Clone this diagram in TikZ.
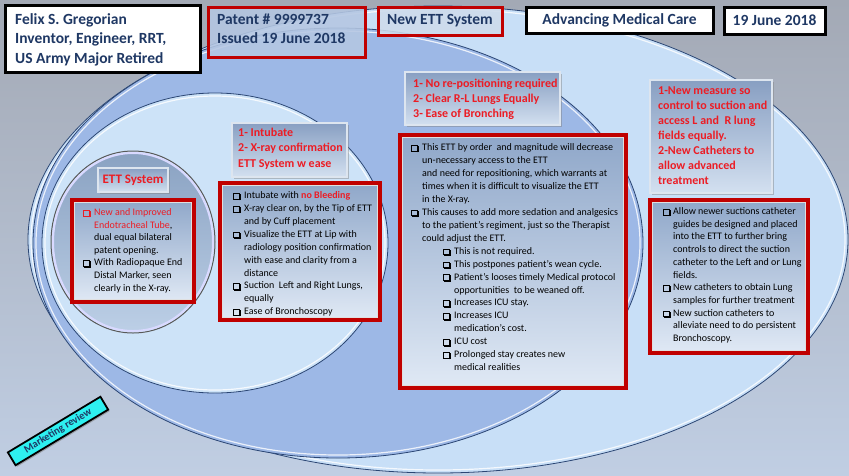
\documentclass[tikz,border=0pt]{standalone}
\usepackage{fontspec}
\setmainfont{Carlito}
\usetikzlibrary{shadows}
\definecolor{navy}{HTML}{1F3864}
\definecolor{redtxt}{HTML}{EC1C24}
\definecolor{redbd}{HTML}{C00000}
\definecolor{bgtop}{HTML}{A3A9B5}
\definecolor{bgmid}{HTML}{AFBACB}
\definecolor{bgbot}{HTML}{C0CEE3}
\definecolor{eone}{HTML}{C8DFF7}
\definecolor{etwo}{HTML}{9DB8E6}
\definecolor{ethree}{HTML}{CDE3F8}
\definecolor{efourtop}{HTML}{8AA2C2}
\definecolor{efourbot}{HTML}{BCCFE6}
\definecolor{eline}{HTML}{2B4674}
\definecolor{boxtop}{HTML}{8FA7C9}
\definecolor{boxbot}{HTML}{E0E9F5}
\definecolor{bevtop}{HTML}{889FC2}
\definecolor{bevbot}{HTML}{D3E0F0}
\definecolor{bevrim}{HTML}{DDE5EF}
\definecolor{mkcyan}{HTML}{2EF0F0}
\definecolor{patfill}{HTML}{BACEEC}
\definecolor{newfill}{HTML}{D6E4F6}
% shadowed square bullet built from rules
\newcommand\qb{{\setlength{\fboxsep}{0pt}\setlength{\fboxrule}{0.7pt}\fbox{\rule{0pt}{4.9pt}\rule{4.9pt}{0pt}}\kern-0.1pt\rule[-1.7pt]{1.1pt}{6.3pt}\llap{\rule[-1.7pt]{6.3pt}{1.1pt}}}}
\newcommand\bu{\makebox[11pt][l]{\qb}}
\newcommand\bw{\makebox[10pt][l]{\qb}}
\newcommand\ci{\hspace*{11pt}}
\newcommand\cw{\hspace*{10pt}}
\tikzset{
 hdrblack/.style={draw=black, line width=3pt, fill=white, drop shadow={shadow xshift=1.5pt, shadow yshift=-1.5pt, opacity=0.5}, inner sep=0, font=\fontsize{15.5}{19.5}\selectfont\bfseries, text=navy},
 hdrred/.style={draw=redbd, line width=3pt, fill=patfill, fill opacity=0.8, text opacity=1, drop shadow={shadow xshift=1.5pt, shadow yshift=-1.5pt, opacity=0.4}, inner sep=0, font=\fontsize{15.5}{19.5}\selectfont\bfseries, text=navy},
 redbox/.style={draw=redbd, line width=3.5pt, top color=boxtop, bottom color=boxbot, drop shadow={opacity=0.45}, inner sep=0},
 innerrim/.style={draw=white!75!gray, line width=0.6pt},
 bevel/.style={draw=bevrim, line width=2.5pt, top color=bevtop, bottom color=bevbot, drop shadow={shadow xshift=2pt, shadow yshift=-2pt, opacity=0.45}, inner sep=0},
 body/.style={anchor=north west, inner sep=0, align=left, font=\fontsize{10}{12.9}\selectfont, text=black},
 head/.style={anchor=north west, inner sep=0, align=left, font=\fontsize{12}{15}\selectfont\bfseries, text=redtxt},
 ell/.style={draw=eline, line width=0.8pt},
 hilite/.style={draw=white, line width=1.2pt, opacity=0.8},
}
\begin{document}
\begin{tikzpicture}[x=1pt,y=-1pt]
\useasboundingbox (0,0) rectangle (849,475);
% background
\shade[top color=bgtop, middle color=bgmid, bottom color=bgbot] (0,0) rectangle (849,475);
% nested ellipses
\draw[ell, fill=eone] (438,239.5) ellipse [x radius=410pt, y radius=233.5pt];
\draw[hilite] (438,239.5) ellipse [x radius=407pt, y radius=230.5pt];
\draw[ell, fill=etwo] (338,243) ellipse [x radius=305pt, y radius=215pt];
\draw[hilite] (338,243) ellipse [x radius=302pt, y radius=212pt];
\draw[ell, fill=ethree] (215,243) ellipse [x radius=173pt, y radius=150pt];
\draw[hilite] (215,243) ellipse [x radius=170pt, y radius=147pt];
\draw[draw=gray!70!black, line width=1pt] (133,242) ellipse [x radius=82pt, y radius=91pt];
\draw[draw=white!85!blue, line width=2pt, top color=efourtop, bottom color=efourbot] (133,242) ellipse [x radius=80pt, y radius=89pt];

% header boxes
\node[hdrblack, minimum width=195pt, minimum height=67pt] (felix) at (102.5,38.5) {};
\node[anchor=north west, inner sep=0, align=left, font=\fontsize{15.5}{19.5}\selectfont\bfseries, text=navy] (felixt) at (15,13) {Felix S. Gregorian\\Inventor, Engineer, RRT,\\US Army Major Retired};
\node[hdrred, minimum width=157pt, minimum height=50pt] (pat) at (286.5,32) {};
\node[anchor=north west, inner sep=0, align=left, font=\fontsize{15.5}{19}\selectfont\bfseries, text=navy] (patt) at (217,14) {Patent \# 9999737\\Issued 19 June 2018};
\node[hdrred, fill=newfill, minimum width=124pt, minimum height=28pt] (new) at (440,21) {New ETT System};
\node[hdrblack, minimum width=187pt, minimum height=26pt] (adv) at (619.5,20) {Advancing Medical Care};
\node[hdrblack, minimum width=101pt, minimum height=27pt] (date) at (774.5,20.5) {19 June 2018};

% left circle
\node[bevel, minimum width=70pt, minimum height=24pt, font=\fontsize{13}{15}\selectfont\bfseries, text=redtxt] (ett) at (133,180) {ETT System};
\node[redbox, minimum width=122pt, minimum height=102pt] (b1) at (133,251) {};
\draw[innerrim] ([shift={(4,4)}]b1.north west) rectangle ([shift={(-4,-4)}]b1.south east);
\node[body, font=\fontsize{10}{12.6}\selectfont] (t1) at (83,208.4) {\textcolor{redtxt}{\bu New and Improved}\\
\ci\textcolor{redtxt}{Endotracheal Tube}, \\
\ci dual equal bilateral\\
\ci patent opening.\\
\bu With Radiopaque End\\
\ci Distal Marker, seen\\
\ci clearly in the X-ray.};

% column 2
\node[bevel, minimum width=115pt, minimum height=54pt] (h2) at (289.5,150) {};
\node[head, font=\fontsize{12}{15.5}\selectfont\bfseries] (h2t) at (238,127.5) {1- Intubate\\2- X-ray confirmation\\ETT System w ease};
\node[redbox, minimum width=160pt, minimum height=137pt] (b2) at (300,251.5) {};
\draw[innerrim] ([shift={(4,4)}]b2.north west) rectangle ([shift={(-4,-4)}]b2.south east);
\node[body] (t2) at (233,191.4) {\bu Intubate with \textcolor{redtxt}{\bfseries no Bleeding}\\
\bu X-ray clear on, by the Tip of ETT\\
\ci and by Cuff placement\\
\bu Visualize the ETT at Lip with\\
\ci radiology position confirmation\\
\ci with ease and clarity from a\\
\ci distance\\
\bu Suction\ \ Left and Right Lungs,\\
\ci equally\\
\bu Ease of Bronchoscopy};

% column 3
\node[bevel, minimum width=155pt, minimum height=53pt] (h3) at (482.5,98.5) {};
\node[head] (h3t) at (413,78.5) {1- No re-positioning required\\2- Clear R-L Lungs Equally\\3- Ease of Bronching};
\node[redbox, minimum width=226pt, minimum height=253pt] (b3) at (513,261.5) {};
\draw[innerrim] ([shift={(4,4)}]b3.north west) rectangle ([shift={(-4,-4)}]b3.south east);
\node[body, font=\fontsize{10}{12.95}\selectfont] (t3) at (411,143.4) {\bu This ETT by order\ \ and magnitude will decrease\\
\ci un-necessary access to the ETT\\
\ci and need for repositioning, which warrants at\\
\ci times when it is difficult to visualize the ETT\\
\ci in the X-ray.\\
\bu This causes to add more sedation and analgesics\\
\ci to the patient’s regiment, just so the Therapist\\
\ci could adjust the ETT.\\
\hspace*{32pt}\bu This is not required.\\
\hspace*{32pt}\bu This postpones patient’s wean cycle.\\
\hspace*{32pt}\bu Patient’s looses timely Medical protocol\\
\hspace*{43pt}opportunities\ \ to be weaned off.\\
\hspace*{32pt}\bu Increases ICU stay.\\
\hspace*{32pt}\bu Increases ICU\\
\hspace*{43pt}medication’s cost.\\
\hspace*{32pt}\bu ICU cost\\
\hspace*{32pt}\bu Prolonged stay creates new\\
\hspace*{43pt}medical realities};

% column 4
\node[bevel, minimum width=122pt, minimum height=113pt] (h4) at (711,136.5) {};
\node[head] (h4t) at (658,86.5) {1-New measure so\\control to suction and\\access L and\ \ R lung\\fields equally.\\2-New Catheters to\\allow advanced\\treatment};
\node[redbox, minimum width=158pt, minimum height=153pt] (b4) at (729,276.5) {};
\draw[innerrim] ([shift={(4,4)}]b4.north west) rectangle ([shift={(-4,-4)}]b4.south east);
\node[body, font=\fontsize{10}{12.7}\selectfont] (t4) at (663,207.4) {\bw Allow newer suctions catheter\\
\cw guides be designed and placed\\
\cw into the ETT to further bring\\
\cw controls to direct the suction\\
\cw catheter to the Left and or Lung\\
\cw fields.\\
\bw New catheters to obtain Lung\\
\cw samples for further treatment\\
\bw New suction catheters to\\
\cw alleviate need to do persistent\\
\cw Bronchoscopy.};

% marketing tag
\node[rotate=31, fill=mkcyan, draw=black, line width=1.8pt, minimum width=108pt, minimum height=15pt, inner sep=1pt, font=\fontsize{10.5}{12}\selectfont\bfseries, text=navy, drop shadow={shadow xshift=1.5pt, shadow yshift=-1.5pt, opacity=0.6}] (mk) at (58,431) {Marketing review};
\end{tikzpicture}
\end{document}
